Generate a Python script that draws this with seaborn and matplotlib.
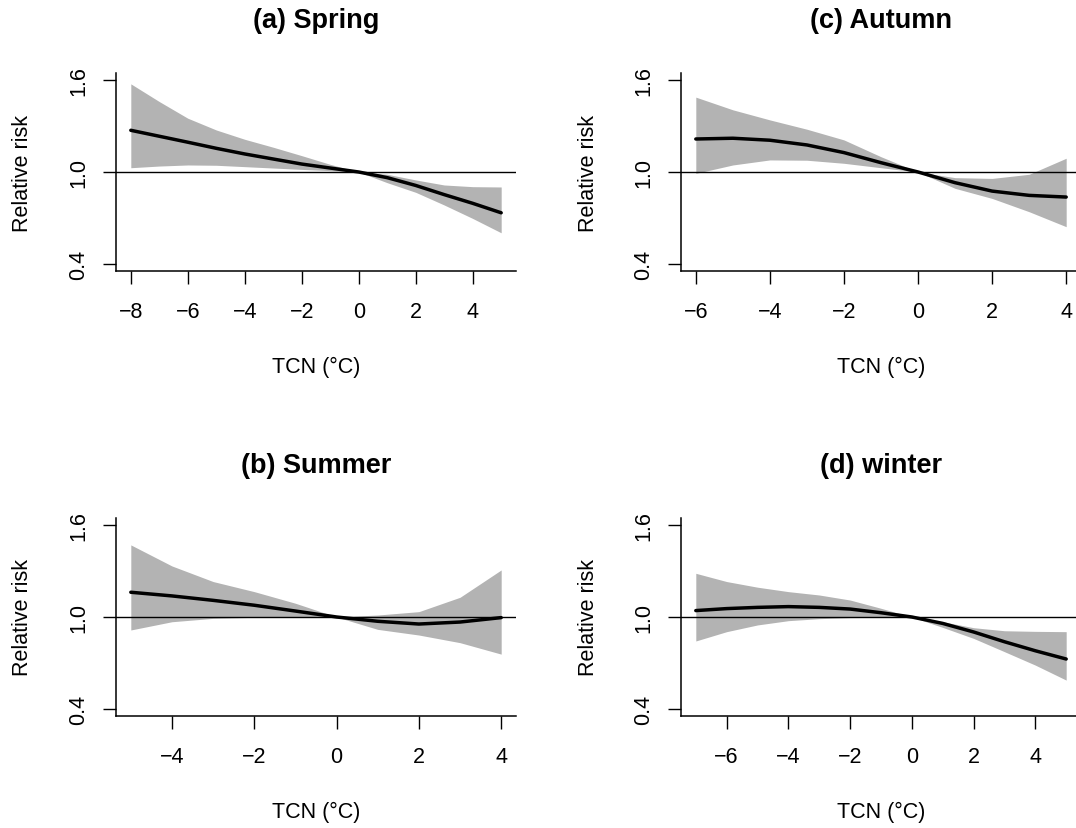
import numpy as np
import matplotlib
matplotlib.use("Agg")
import matplotlib.pyplot as plt
import seaborn as sns

# values (relative risk by TCN)
spring_x = [-8, -7, -6, -5, -4, -3, -2, -1, 0, 1, 2, 3, 4, 5]
spring_fit = [1.273, 1.234, 1.195, 1.155, 1.118, 1.085, 1.052, 1.026, 1.0, 0.963, 0.912, 0.852, 0.795, 0.733]
spring_hi = [1.577, 1.461, 1.352, 1.275, 1.214, 1.162, 1.107, 1.050, 1.0, 0.985, 0.948, 0.915, 0.904, 0.902]
spring_lo = [1.028, 1.039, 1.046, 1.044, 1.035, 1.026, 1.017, 1.009, 1.0, 0.930, 0.867, 0.784, 0.696, 0.602]

autumn_x = [-6, -5, -4, -3, -2, -1, 0, 1, 2, 3, 4]
autumn_fit = [1.216, 1.221, 1.208, 1.177, 1.127, 1.061, 1.0, 0.930, 0.875, 0.847, 0.836]
autumn_hi = [1.490, 1.407, 1.341, 1.280, 1.210, 1.100, 1.0, 0.963, 0.958, 0.985, 1.090]
autumn_lo = [0.991, 1.046, 1.079, 1.077, 1.057, 1.028, 1.0, 0.893, 0.827, 0.740, 0.642]

summer_x = [-5, -4, -3, -2, -1, 0, 1, 2, 3, 4]
summer_fit = [1.162, 1.138, 1.109, 1.077, 1.039, 1.0, 0.972, 0.954, 0.967, 0.996]
summer_hi = [1.472, 1.334, 1.232, 1.166, 1.090, 1.0, 1.013, 1.035, 1.129, 1.308]
summer_lo = [0.915, 0.969, 0.991, 0.998, 0.999, 1.0, 0.919, 0.882, 0.832, 0.757]

winter_x = [-7, -6, -5, -4, -3, -2, -1, 0, 1, 2, 3, 4, 5]
winter_fit = [1.042, 1.055, 1.063, 1.068, 1.063, 1.052, 1.028, 1.0, 0.958, 0.902, 0.838, 0.779, 0.725]
winter_hi = [1.286, 1.232, 1.195, 1.166, 1.144, 1.111, 1.057, 1.0, 0.969, 0.930, 0.910, 0.906, 0.904]
winter_lo = [0.843, 0.904, 0.948, 0.976, 0.989, 0.996, 0.998, 1.0, 0.932, 0.860, 0.773, 0.685, 0.587]

y_ticks = [0.4, 1.0, 1.6]
y_ticklabels = ["0.4", "1.0", "1.6"]

panels = [
    ("(a) Spring", spring_x, spring_fit, spring_lo, spring_hi, [-8, -6, -4, -2, 0, 2, 4]),
    ("(c) Autumn", autumn_x, autumn_fit, autumn_lo, autumn_hi, [-6, -4, -2, 0, 2, 4]),
    ("(b) Summer", summer_x, summer_fit, summer_lo, summer_hi, [-4, -2, 0, 2, 4]),
    ("(d) winter", winter_x, winter_fit, winter_lo, winter_hi, [-6, -4, -2, 0, 2, 4]),
]

sns.set_style("ticks")
plt.rcParams["font.family"] = ["Liberation Sans", "DejaVu Sans"]
plt.rcParams["text.color"] = "black"
plt.rcParams["axes.labelcolor"] = "black"
plt.rcParams["xtick.color"] = "black"
plt.rcParams["ytick.color"] = "black"

W, H = 1076, 829
fig = plt.figure(figsize=(W / 100, H / 100), dpi=100)

# axes boxes in pixels: left, top, width, height
boxes = [(116, 74), (681, 74), (116, 519), (681, 519)]
aw, ah = 400, 198

for (title, x, fit, lo, hi, xt), (bx, by) in zip(panels, boxes):
    ax = fig.add_axes([bx / W, 1 - (by + ah) / H, aw / W, ah / H])
    ax.fill_between(x, lo, hi, color="#b3b3b3", lw=0)
    sns.lineplot(x=x, y=fit, ax=ax, color="black", lw=2.5)
    ax.axhline(1.0, color="black", lw=1.0)
    pad = 0.04 * (x[-1] - x[0])
    ax.set_xlim(x[0] - pad, x[-1] + pad)
    ax.set_ylim(0.352, 1.648)
    ax.set_xticks(xt)
    ax.set_xticklabels([str(v).replace("-", "\u2212") for v in xt])
    ax.set_yticks(y_ticks)
    ax.set_yticklabels(y_ticklabels)
    ax.tick_params(axis="both", length=9.5, width=1.0, labelsize=15.5, color="black", labelcolor="black")
    ax.tick_params(axis="x", pad=12)
    ax.tick_params(axis="y", pad=10, labelrotation=90)
    for lab in ax.get_yticklabels():
        lab.set_va("center")
    for s in ["top", "right"]:
        ax.spines[s].set_visible(False)
    for s in ["left", "bottom"]:
        ax.spines[s].set_linewidth(1.1)
        ax.spines[s].set_color("black")
    ax.set_xlabel("TCN (°C)", fontsize=15.5)
    ax.set_ylabel("Relative risk", fontsize=15.5)
    ax.xaxis.label.set_va("center")
    ax.xaxis.set_label_coords(0.5, -95 / ah)
    ax.yaxis.label.set_va("center")
    ax.yaxis.set_label_coords(-93 / aw, 0.5)
    ax.set_title(title, fontsize=19.5, fontweight="bold", y=1 + 53 / ah, va="center", pad=0)

fig.savefig("out.png", dpi=100)
print("Done: out.png")
